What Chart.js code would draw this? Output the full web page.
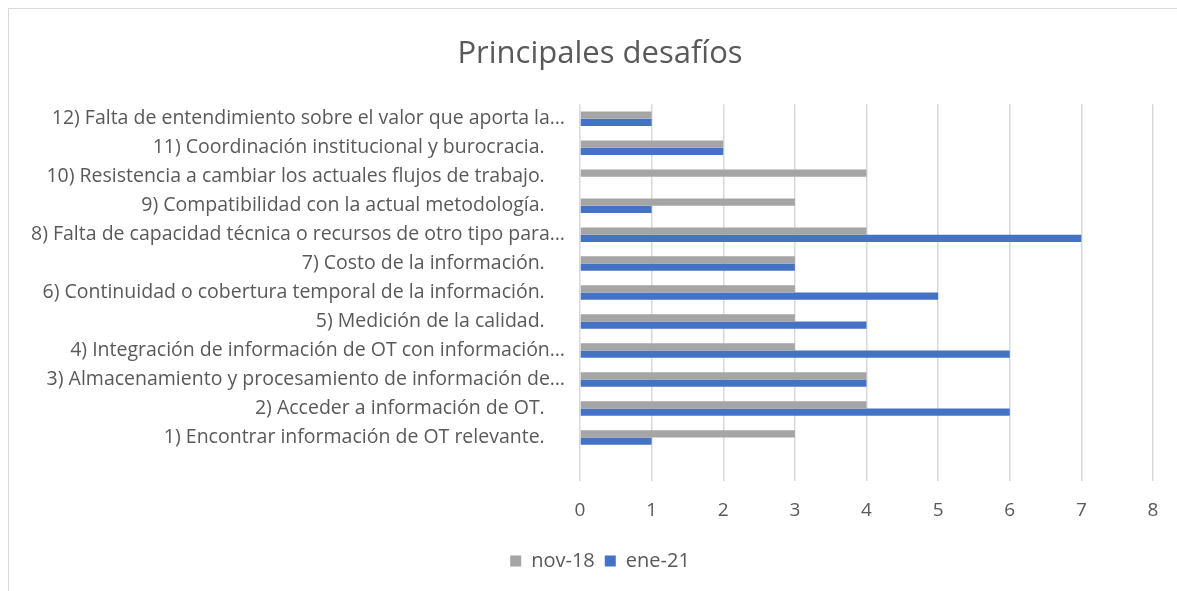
<!DOCTYPE html>
<html>
<head>
<meta charset="utf-8">
<script src="https://cdn.jsdelivr.net/npm/chart.js@4/dist/chart.umd.min.js"></script>
<style>
  html, body { margin: 0; padding: 0; background: #fff; overflow: hidden; }
  #frame { position: absolute; left: 8px; top: 8px; width: 1180px; height: 600px; border: 1px solid #d9d9d9; }
  #wrap { position: absolute; left: 0; top: 0; width: 1177px; height: 591px; }
</style>
</head>
<body>
<div id="frame"></div>
<div id="wrap"><canvas id="barChart"></canvas></div>
<script>
// categories top to bottom; the last empty one is the blank slot Excel leaves under 1)
const categories = [
    '12) Falta de entendimiento sobre el valor que aporta la\u2026',
    '11) Coordinación institucional y burocracia.    ',
    '10) Resistencia a cambiar los actuales flujos de trabajo.    ',
    '9) Compatibilidad con la actual metodología.    ',
    '8) Falta de capacidad técnica o recursos de otro tipo para\u2026',
    '7) Costo de la información.    ',
    '6) Continuidad o cobertura temporal de la información.    ',
    '5) Medición de la calidad.    ',
    '4) Integración de información de OT con información\u2026',
    '3) Almacenamiento y procesamiento de información de\u2026',
    '2) Acceder a información de OT.    ',
    '1) Encontrar información de OT relevante.    ',
    ''
];
const nov18 = [1, 2, 4, 3, 4, 3, 3, 3, 3, 4, 4, 3];
const ene21 = [1, 2, 0, 1, 7, 3, 5, 4, 6, 4, 6, 1];
const xTicks = [0, 1, 2, 3, 4, 5, 6, 7, 8];

const textColor = '#595959';
const fontFamily = '"Open Sans", sans-serif';

// long category labels run past the left padding, so widen the label clip box
const labelRoom = {
    id: 'labelRoom',
    beforeDraw(chart) { chart.scales.y.left = 0; }
};

new Chart(document.getElementById('barChart'), {
    type: 'bar',
    data: {
        labels: categories,
        datasets: [{
            label: 'nov-18',
            data: nov18,
            backgroundColor: '#A5A5A5',
            categoryPercentage: 0.5,
            barPercentage: 1.0
        }, {
            label: 'ene-21',
            data: ene21,
            backgroundColor: '#4472C4',
            categoryPercentage: 0.5,
            barPercentage: 1.0
        }]
    },
    plugins: [labelRoom],
    options: {
        indexAxis: 'y',
        responsive: true,
        maintainAspectRatio: false,
        animation: false,
        // left padding keeps title and legend centred where Excel puts them
        layout: { padding: { left: 47, right: 24, top: 0, bottom: 10 } },
        scales: {
            x: {
                min: xTicks[0],
                max: xTicks[xTicks.length - 1],
                ticks: { stepSize: 1, color: textColor, padding: 18, font: { family: fontFamily, size: 19 } },
                grid: { color: '#d9d9d9', lineWidth: 1.5, drawTicks: false },
                border: { display: false },
                afterFit: function (scale) { scale.height = 60; }
            },
            y: {
                ticks: { color: textColor, padding: 7, autoSkip: false, font: { family: fontFamily, size: 19.5 } },
                grid: { display: false },
                border: { display: false },
                afterFit: function (scale) { scale.width = 533; }
            }
        },
        plugins: {
            title: {
                display: true,
                text: 'Principales desafíos',
                color: textColor,
                font: { family: fontFamily, size: 31, weight: 'normal' },
                padding: { top: 36, bottom: 31 }
            },
            legend: {
                position: 'bottom',
                labels: { color: textColor, boxWidth: 11, boxHeight: 11, padding: 10, font: { family: fontFamily, size: 20 } }
            },
            tooltip: { enabled: false }
        }
    }
});
</script>
</body>
</html>
